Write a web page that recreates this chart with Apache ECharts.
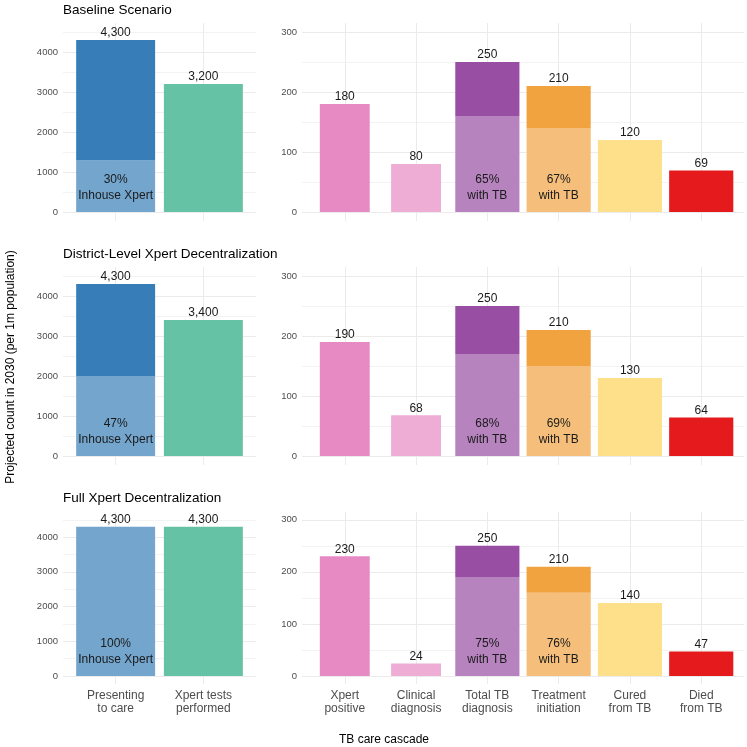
<!DOCTYPE html>
<html>
<head>
<meta charset="utf-8">
<script src="https://cdn.jsdelivr.net/npm/echarts@6/dist/echarts.min.js"></script>
<style>
  html, body { margin: 0; background: #fff; }
  #chart { width: 747px; height: 747px; }
</style>
</head>
<body>
<div id="chart"></div>
<script>
// rows of the figure
const scenarios = ['Baseline Scenario', 'District-Level Xpert Decentralization', 'Full Xpert Decentralization'];

// categories
const leftCats = ['Presenting\nto care', 'Xpert tests\nperformed'];
const rightCats = ['Xpert\npositive', 'Clinical\ndiagnosis', 'Total TB\ndiagnosis', 'Treatment\ninitiation', 'Cured\nfrom TB', 'Died\nfrom TB'];

// left panel values (one entry per scenario)
const presenting = [4300, 4300, 4300];
const inhouse = [1290, 2000, 4300];
const inhousePct = ['30%', '47%', '100%'];
const xpertTests = [3200, 3400, 4300];

// right panel values
const xpertPositive = [180, 190, 230];
const clinicalDx = [80, 68, 24];
const totalDx = [250, 250, 250];
const totalDxWithTB = [160, 170, 190];
const totalDxPct = ['65%', '68%', '75%'];
const txInit = [210, 210, 210];
const txInitWithTB = [140, 150, 160];
const txInitPct = ['67%', '69%', '76%'];
const cured = [120, 130, 140];
const died = [69, 64, 47];

// axis ranges
const leftMax = 4725, leftStep = 500, leftMajor = 1000;
const rightMax = 315, rightStep = 50, rightMajor = 100;

const FONT = 'Liberation Sans, Arial, sans-serif';
const colors = {
  presLight: '#73A5CD', presDark: '#377EB8',
  tests: '#66C2A5',
  xpos: '#E78AC3', clin: '#EEADD5',
  totLight: '#B683BE', totDark: '#984EA3',
  txLight: '#F5BF7B', txDark: '#F1A340',
  cured: '#FEE08B', died: '#E41A1C'
};

// pixel layout of each row: title, zero line, top of panel
const rows = [
  { title: 3, zero: 212, top: 23 },
  { title: 247, zero: 456, top: 267 },
  { title: 491, zero: 676, top: 512 }
];
const L = { x: 63, w: 193, n: 2 };
const R = { x: 302, w: 442, n: 6 };

const fmt = v => v.toLocaleString('en-US');

function topLabel(v) {
  return { show: true, position: 'top', distance: 1, formatter: fmt(v), color: '#1a1a1a', fontSize: 12, fontFamily: FONT };
}
function innerLabel(text) {
  return { show: true, position: 'insideBottom', distance: 8, formatter: text, color: '#1a1a1a', fontSize: 12, lineHeight: 16, fontFamily: FONT };
}

const grid = [], xAxis = [], yAxis = [], series = [], title = [];

rows.forEach((row, r) => {
  const h = row.zero - row.top;
  const bottom = row.zero + h * 0.05 / 1.05; // ggplot expansion below 0
  const fullH = bottom - row.top;

  title.push({
    text: scenarios[r], left: 63, top: row.title, padding: 0,
    textStyle: { fontSize: 13.5, fontWeight: 'normal', color: '#000', fontFamily: FONT }
  });

  [L, R].forEach((p, side) => {
    const max = side === 0 ? leftMax : rightMax;
    const step = side === 0 ? leftStep : rightStep;
    const major = side === 0 ? leftMajor : rightMajor;
    const u = p.w / (p.n - 1 + 1.2);

    // background grid: horizontal lines + y labels
    const gb = grid.length;
    grid.push({ left: p.x, top: row.top, width: p.w, height: h });
    xAxis.push({ type: 'value', gridIndex: gb, show: false });
    yAxis.push({
      type: 'value', gridIndex: gb, min: 0, max: max, interval: step,
      axisLine: { show: false }, axisTick: { show: false },
      axisLabel: {
        color: '#4d4d4d', fontSize: 9.5, fontFamily: FONT, margin: 5, showMaxLabel: false,
        formatter: v => (v % major === 0 ? String(v) : '')
      },
      splitLine: { show: true, showMaxLine: false, lineStyle: { color: ['#ebebeb', '#f3f3f3'], width: 1 } }
    });

    // data grid: bars on category axis
    const gd = grid.length;
    grid.push({ left: p.x + 0.1 * u, top: row.top, width: p.n * u, height: fullH });
    const cats = side === 0 ? leftCats : rightCats;
    const xa = xAxis.length;
    xAxis.push({
      type: 'category', gridIndex: gd, data: cats,
      axisLine: { show: false, onZero: false },
      axisTick: { show: true, inside: true, alignWithLabel: true, length: fullH, lineStyle: { color: '#ebebeb', width: 1 } },
      axisLabel: { show: r === 2, interval: 0, margin: 5, color: '#4d4d4d', fontSize: 12, lineHeight: 13, fontFamily: FONT },
      splitLine: { show: false }
    });
    const ya = yAxis.length;
    yAxis.push({ type: 'value', gridIndex: gd, min: -max * 0.05 / 1.05, max: max, show: false, splitLine: { show: false } });

    if (side === 0) {
      series.push({
        type: 'bar', xAxisIndex: xa, yAxisIndex: ya, stack: 'L' + r, barWidth: '90%',
        data: [
          { value: inhouse[r], itemStyle: { color: colors.presLight }, label: innerLabel(inhousePct[r] + '\nInhouse Xpert') },
          { value: xpertTests[r], itemStyle: { color: colors.tests } }
        ]
      }, {
        type: 'bar', xAxisIndex: xa, yAxisIndex: ya, stack: 'L' + r, barWidth: '90%',
        data: [
          { value: presenting[r] - inhouse[r], itemStyle: { color: colors.presDark }, label: topLabel(presenting[r]) },
          { value: 0, itemStyle: { color: colors.tests }, label: topLabel(xpertTests[r]) }
        ]
      });
    } else {
      // second hidden axis for the narrower bars
      const xn = xAxis.length;
      xAxis.push({ type: 'category', gridIndex: gd, data: cats, show: false, axisLine: { onZero: false } });
      series.push({
        type: 'bar', xAxisIndex: xa, yAxisIndex: ya, stack: 'W' + r, barWidth: '90%',
        data: ['-', '-',
          { value: totalDxWithTB[r], itemStyle: { color: colors.totLight }, label: innerLabel(totalDxPct[r] + '\nwith TB') },
          { value: txInitWithTB[r], itemStyle: { color: colors.txLight }, label: innerLabel(txInitPct[r] + '\nwith TB') },
          { value: cured[r], itemStyle: { color: colors.cured } },
          { value: died[r], itemStyle: { color: colors.died } }
        ]
      }, {
        type: 'bar', xAxisIndex: xa, yAxisIndex: ya, stack: 'W' + r, barWidth: '90%',
        data: ['-', '-',
          { value: totalDx[r] - totalDxWithTB[r], itemStyle: { color: colors.totDark }, label: topLabel(totalDx[r]) },
          { value: txInit[r] - txInitWithTB[r], itemStyle: { color: colors.txDark }, label: topLabel(txInit[r]) },
          { value: 0, itemStyle: { color: colors.cured }, label: topLabel(cured[r]) },
          { value: 0, itemStyle: { color: colors.died }, label: topLabel(died[r]) }
        ]
      }, {
        type: 'bar', xAxisIndex: xn, yAxisIndex: ya, stack: 'N' + r, barWidth: '70%',
        data: [
          { value: xpertPositive[r], itemStyle: { color: colors.xpos } },
          { value: clinicalDx[r], itemStyle: { color: colors.clin } },
          '-', '-', '-', '-'
        ]
      }, {
        type: 'bar', xAxisIndex: xn, yAxisIndex: ya, stack: 'N' + r, barWidth: '70%',
        data: [
          { value: 0, itemStyle: { color: colors.xpos }, label: topLabel(xpertPositive[r]) },
          { value: 0, itemStyle: { color: colors.clin }, label: topLabel(clinicalDx[r]) },
          '-', '-', '-', '-'
        ]
      });
    }
  });
});

const chart = echarts.init(document.getElementById('chart'));
chart.setOption({
  animation: false,
  backgroundColor: '#fff',
  textStyle: { fontFamily: FONT },
  title: title,
  grid: grid,
  xAxis: xAxis,
  yAxis: yAxis,
  series: series,
  graphic: [
    {
      type: 'text', x: 11, y: 367, rotation: Math.PI / 2,
      style: { text: 'Projected count in 2030 (per 1m population)', fill: '#000', font: '12px ' + FONT, textAlign: 'center', textVerticalAlign: 'middle' }
    },
    {
      type: 'text', x: 384, y: 740,
      style: { text: 'TB care cascade', fill: '#000', font: '12px ' + FONT, textAlign: 'center', textVerticalAlign: 'middle' }
    }
  ]
});
</script>
</body>
</html>
